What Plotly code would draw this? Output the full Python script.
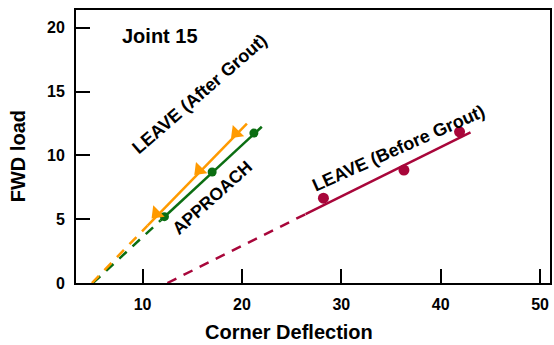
import plotly.graph_objects as go

# ---- data ----
approach_x = [12.2, 17.0, 21.2]
approach_y = [5.2, 8.7, 11.75]
leave_after_x = [11.4, 15.7, 19.4]
leave_after_y = [5.45, 8.85, 11.75]
leave_before_x = [28.2, 36.3, 41.9]
leave_before_y = [6.65, 8.85, 11.85]

# fitted lines: [start, solid start, end]
approach_fit_x = [5.0, 11.8, 22.0]
approach_fit_y = [0.0, 4.9, 12.25]
leave_after_fit_x = [4.9, 10.5, 20.5]
leave_after_fit_y = [0.0, 4.5, 12.5]
leave_before_fit_x = [12.5, 26.4, 43.0]
leave_before_fit_y = [0.0, 5.4, 11.8]

x_ticks = [10, 20, 30, 40, 50]
y_ticks = [0, 5, 10, 15, 20]

ORANGE = "#FF9A00"
GREEN = "#0B6E12"
RED = "#A8063A"
FONT = "Liberation Sans, Arial, sans-serif"

fig = go.Figure()

def fit(xs, ys, color):
    fig.add_trace(go.Scatter(x=xs[:2], y=ys[:2], mode="lines",
                             line=dict(color=color, width=2.5, dash="10px,8px"),
                             showlegend=False, hoverinfo="skip"))
    fig.add_trace(go.Scatter(x=xs[1:], y=ys[1:], mode="lines",
                             line=dict(color=color, width=2.5),
                             showlegend=False, hoverinfo="skip"))

fit(leave_before_fit_x, leave_before_fit_y, RED)
fit(approach_fit_x, approach_fit_y, GREEN)
fit(leave_after_fit_x, leave_after_fit_y, ORANGE)

fig.add_trace(go.Scatter(x=leave_before_x, y=leave_before_y, mode="markers",
                         marker=dict(color=RED, size=11, symbol="circle"),
                         showlegend=False))
fig.add_trace(go.Scatter(x=approach_x, y=approach_y, mode="markers",
                         marker=dict(color=GREEN, size=9, symbol="circle"),
                         showlegend=False))
fig.add_trace(go.Scatter(x=leave_after_x, y=leave_after_y, mode="markers",
                         marker=dict(color=ORANGE, size=14, symbol="triangle-down", angle=45),
                         showlegend=False))

anns = [
    dict(text="Joint 15", x=7.7, y=19.35, xanchor="left", yanchor="middle",
         font=dict(size=20), textangle=0),
    dict(text="LEAVE (After Grout)", x=15.75, y=14.8, font=dict(size=18), textangle=-41),
    dict(text="APPROACH", x=16.95, y=6.7, font=dict(size=17.5), textangle=-42),
    dict(text="LEAVE (Before Grout)", x=35.8, y=10.6, font=dict(size=18), textangle=-24),
]
for a in anns:
    a.setdefault("xanchor", "center")
    a.setdefault("yanchor", "middle")
    a["font"].update(family=FONT, color="black", weight="bold")
    fig.add_annotation(xref="x", yref="y", showarrow=False, **a)

fig.add_annotation(text="Corner Deflection", xref="paper", yref="paper",
                   x=0.45, y=-0.18, xanchor="center", yanchor="middle", showarrow=False,
                   font=dict(family=FONT, size=20, color="black", weight="bold"))
fig.add_annotation(text="FWD load", xref="paper", yref="paper",
                   x=-0.122, y=0.465, xanchor="center", yanchor="middle", showarrow=False,
                   textangle=-90,
                   font=dict(family=FONT, size=20, color="black", weight="bold"))

axis_common = dict(showline=True, linecolor="black", linewidth=2, mirror=True,
                   ticks="inside", ticklen=14, tickwidth=2, tickcolor="black",
                   showgrid=False, zeroline=False,
                   tickfont=dict(family=FONT, size=16, color="black", weight="bold"))

fig.update_xaxes(range=[3.3, 51], tickvals=x_ticks, ticklabelstandoff=6, **axis_common)
fig.update_yaxes(range=[0, 21.4], tickvals=y_ticks, ticklabelstandoff=6, **axis_common)

fig.update_layout(width=554, height=345, margin=dict(l=76, r=2, t=10, b=62),
                  paper_bgcolor="white", plot_bgcolor="white", showlegend=False)

fig.write_html("out.html", config={"displayModeBar": False},
               post_script="document.body.style.margin='0';document.body.style.overflow='hidden';")
